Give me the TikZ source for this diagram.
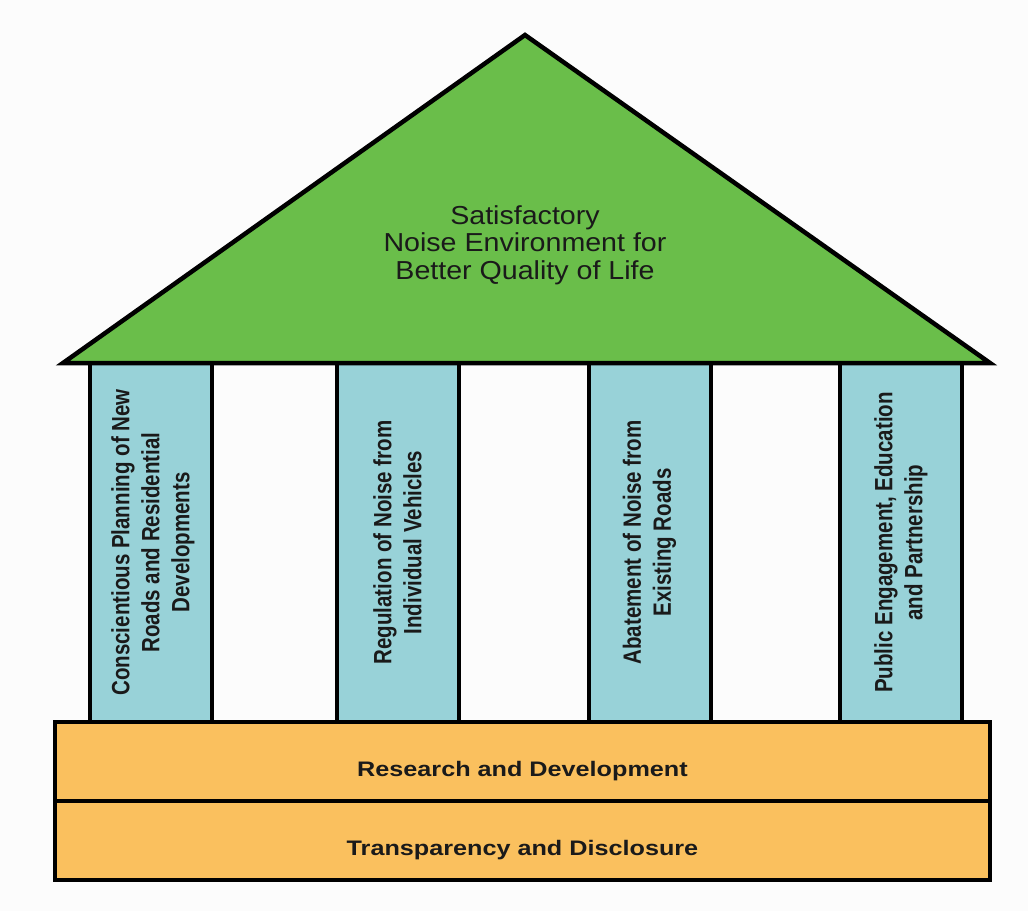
\documentclass[tikz,border=0pt]{standalone}
\usepackage{fontspec}
\setmainfont{Liberation Sans}
\newfontfamily\roofFont[FakeStretch=1.1]{Liberation Sans}
\newfontfamily\pillarFont[FakeStretch=0.82]{Liberation Sans}
\newfontfamily\baseFont[FakeStretch=1.2]{Liberation Sans}
\definecolor{roofgreen}{HTML}{6ABE4A}
\definecolor{pillarblue}{HTML}{98D2D8}
\definecolor{baseorange}{HTML}{FAC05E}
\definecolor{paper}{HTML}{FCFCFC}
\definecolor{ink}{HTML}{1A1A1A}
\begin{document}
\begin{tikzpicture}[x=1pt, y=-1pt, node distance=250pt,
  pillar/.style={rectangle, minimum width=122pt, minimum height=359pt, draw=black, line width=4pt, fill=pillarblue, inner sep=0pt},
  pillartext/.style={rotate=90, align=center, text=ink, font=\pillarFont\bfseries\fontsize{25}{30}\selectfont},
  layer/.style={rectangle, minimum width=935pt, minimum height=79pt, draw=black, line width=4.5pt, fill=baseorange, text=ink, text height=30pt, text depth=0pt, font=\baseFont\bfseries\fontsize{21}{25}\selectfont}]
\fill[paper] (0,0) rectangle (1028,911);

% pillars
\node (planning) [pillar] at (151,542.5) {};
\node (regulation) [pillar, right of=planning, xshift=-3.5pt] {};
\node (abatement) [pillar, right of=regulation, xshift=2pt] {};
\node (engagement) [pillar, right of=abatement, xshift=1.5pt] {};

\node (planningtext) [pillartext] at ([xshift=2pt]planning) {Conscientious Planning of New\\Roads and Residential\\Developments};
\node (regulationtext) [pillartext] at (regulation) {Regulation of Noise from\\Individual Vehicles};
\node (abatementtext) [pillartext] at (abatement) {Abatement of Noise from\\Existing Roads};
\node (engagementtext) [pillartext] at (engagement) {Public Engagement, Education\\and Partnership};

% roof
\coordinate (eaveleft) at (63,363);
\coordinate (apex) at (525,35);
\coordinate (eaveright) at (990,363);
\draw[fill=roofgreen, line width=4.5pt, line join=miter] (eaveleft) -- (apex) -- (eaveright) -- cycle;
\node (goal) [align=center, text=ink, font=\roofFont\fontsize{26}{27.5}\selectfont] at (525,245) {Satisfactory\\Noise Environment for\\Better Quality of Life};

% foundation
\node (research) [layer] at (522.5,761.5) {Research and Development};
\node (transparency) [layer] at (522.5,840.5) {Transparency and Disclosure};

\end{tikzpicture}
\end{document}
